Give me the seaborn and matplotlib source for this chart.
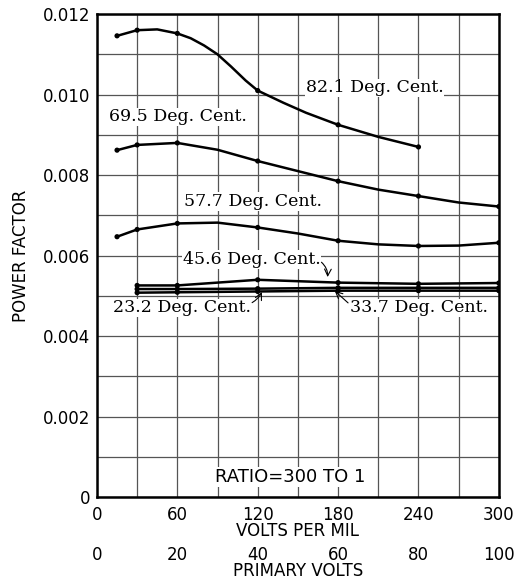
import matplotlib
matplotlib.use("Agg")
import matplotlib.pyplot as plt
from matplotlib.ticker import MultipleLocator, FixedLocator, FixedFormatter
import seaborn as sns

# Pontos medidos (volts por mil, fator de potência)
pts_821_x = [15, 30, 60, 120, 180, 240]
pts_821_y = [0.01146, 0.01160, 0.01152, 0.01010, 0.00925, 0.00870]
pts_695_x = [15, 30, 60, 120, 180, 240, 300]
pts_695_y = [0.00862, 0.00875, 0.00880, 0.00835, 0.00785, 0.00748, 0.00722]
pts_577_x = [15, 30, 60, 120, 180, 240, 300]
pts_577_y = [0.00647, 0.00665, 0.00680, 0.00670, 0.00637, 0.00624, 0.00632]
pts_456_x = [30, 60, 120, 180, 240, 300]
pts_456_y = [0.00526, 0.00526, 0.00540, 0.00533, 0.00530, 0.00532]
pts_337_x = [30, 60, 120, 180, 240, 300]
pts_337_y = [0.00517, 0.00517, 0.00518, 0.00520, 0.00520, 0.00520]
pts_232_x = [30, 60, 120, 180, 240, 300]
pts_232_y = [0.00508, 0.00509, 0.00511, 0.00513, 0.00513, 0.00513]

# Traçado das curvas (inclui pontos intermediários)
crv_821_x = [15, 30, 45, 60, 70, 80, 90, 100, 111, 120, 139, 156, 180, 210, 240]
crv_821_y = [0.01146, 0.01160, 0.01162, 0.01152, 0.01140, 0.01122, 0.01100, 0.01070,
             0.01035, 0.01010, 0.00980, 0.00955, 0.00925, 0.00895, 0.00870]
crv_695_x = [15, 30, 60, 90, 120, 150, 180, 210, 240, 270, 300]
crv_695_y = [0.00862, 0.00875, 0.00880, 0.00863, 0.00835, 0.00810, 0.00785, 0.00764, 0.00748, 0.00732, 0.00722]
crv_577_x = [15, 30, 60, 90, 120, 150, 180, 210, 240, 270, 300]
crv_577_y = [0.00647, 0.00665, 0.00680, 0.00682, 0.00670, 0.00655, 0.00637, 0.00628, 0.00624, 0.00625, 0.00632]

curvas = [
    (crv_821_x, crv_821_y, pts_821_x, pts_821_y),
    (crv_695_x, crv_695_y, pts_695_x, pts_695_y),
    (crv_577_x, crv_577_y, pts_577_x, pts_577_y),
    (pts_456_x, pts_456_y, pts_456_x, pts_456_y),
    (pts_337_x, pts_337_y, pts_337_x, pts_337_y),
    (pts_232_x, pts_232_y, pts_232_x, pts_232_y),
]

y_ticks = [0, 0.002, 0.004, 0.006, 0.008, 0.010, 0.012]
y_labels = ["0", "0.002", "0.004", "0.006", "0.008", "0.010", "0.012"]
x_ticks = [0, 60, 120, 180, 240, 300]
prim_ticks = [0, 20, 40, 60, 80, 100]

sns.set_theme(style="white")
plt.rcParams["font.family"] = ["DejaVu Sans"]
plt.rcParams["text.color"] = "black"
plt.rcParams["axes.labelcolor"] = "black"

fig = plt.figure(figsize=(5.24, 5.87), dpi=100)
ax = fig.add_axes([0.185, 0.153, 0.767, 0.823])

for cx, cy, px, py in curvas:
    sns.lineplot(x=cx, y=cy, ax=ax, color="black", lw=1.8, sort=False)
    sns.scatterplot(x=px, y=py, ax=ax, color="black", s=14, edgecolor="none", zorder=5)

# traço vertical no início das curvas inferiores
ax.vlines(pts_456_x[0], pts_232_y[0], pts_456_y[0], color="black", lw=1.8)

ax.set_xlim(0, 300)
ax.set_ylim(0, 0.012)
ax.xaxis.set_major_locator(FixedLocator(x_ticks))
ax.xaxis.set_minor_locator(MultipleLocator(30))
ax.yaxis.set_major_locator(FixedLocator(y_ticks))
ax.yaxis.set_major_formatter(FixedFormatter(y_labels))
ax.yaxis.set_minor_locator(MultipleLocator(0.001))
ax.grid(which="both", color="#555555", lw=0.9)
ax.tick_params(which="both", length=0, labelsize=12, colors="black")
ax.tick_params(axis="y", pad=5)
ax.tick_params(axis="x", pad=6)
for s in ax.spines.values():
    s.set_color("black")
    s.set_linewidth(1.8)

ax.set_xlabel("VOLTS PER MIL", fontsize=12, labelpad=-1)
ax.set_ylabel("POWER FACTOR", fontsize=12, labelpad=9)

sec = ax.secondary_xaxis(-0.083, functions=(lambda v: v / 3, lambda v: v * 3))
sec.set_xticks(prim_ticks)
sec.tick_params(length=0, labelsize=12, pad=6, colors="black")
sec.spines["bottom"].set_visible(False)
sec.set_xlabel("PRIMARY VOLTS", fontsize=12, labelpad=-1)

# Rótulos das curvas
serif = ["DejaVu Serif"]
caixa = dict(facecolor="white", edgecolor="none", pad=0.5)
rotulos = [
    (156, 0.01017, "82.1 Deg. Cent."),
    (9, 0.00945, "69.5 Deg. Cent."),
    (65, 0.00734, "57.7 Deg. Cent."),
    (64, 0.00590, "45.6 Deg. Cent."),
    (12, 0.00470, "23.2 Deg. Cent."),
    (189, 0.00470, "33.7 Deg. Cent."),
]
for tx, ty, txt in rotulos:
    ax.text(tx, ty, txt, family=serif, fontsize=12.5, ha="left", va="center",
            bbox=caixa, zorder=6)

seta = dict(arrowstyle="->", color="black", lw=0.8, connectionstyle="arc3,rad=-0.3")
ax.annotate("", xy=(172, 0.00540), xytext=(166, 0.00588), arrowprops=seta, zorder=7)
ax.annotate("", xy=(124, 0.00516), xytext=(114, 0.00480),
            arrowprops=dict(arrowstyle="->", color="black", lw=0.8,
                            connectionstyle="arc3,rad=0.2"), zorder=7)
ax.annotate("", xy=(176, 0.00517), xytext=(189, 0.00478),
            arrowprops=dict(arrowstyle="->", color="black", lw=0.8), zorder=7)

ax.text(88, 0.0005, "RATIO=300 TO 1", fontsize=13, ha="left", va="center",
        bbox=caixa, zorder=6)

fig.savefig("out.png", dpi=100)
